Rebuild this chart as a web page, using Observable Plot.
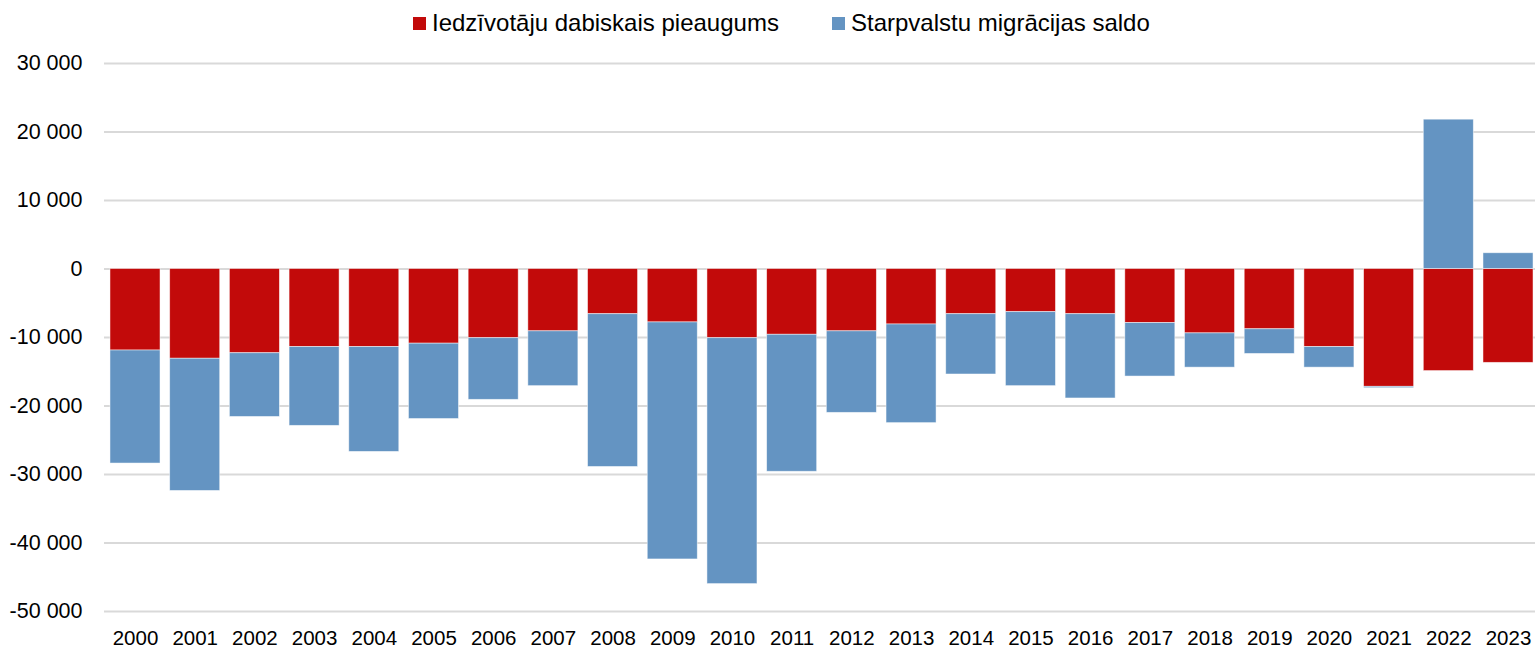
<!DOCTYPE html>
<html>
<head>
<meta charset="utf-8">
<script src="https://cdn.jsdelivr.net/npm/d3@7"></script>
<script src="https://cdn.jsdelivr.net/npm/@observablehq/plot@0.6"></script>
<style>
  body { margin: 0; background: #fff; font-family: Arial, "Liberation Sans", sans-serif; }
  #legend { position: relative; height: 45px; font-size: 24px; color: #000; }
  .item { position: absolute; top: 0; height: 46px; display: flex; align-items: center; }
  .sw { width: 13px; height: 13px; margin-right: 6px; }
</style>
</head>
<body>
<div id="legend"></div>
<div id="chart"></div>
<script>
const years = ["2000","2001","2002","2003","2004","2005","2006","2007","2008","2009","2010","2011","2012","2013","2014","2015","2016","2017","2018","2019","2020","2021","2022","2023"];
const naturalGrowth = [-11900,-13100,-12300,-11400,-11400,-10900,-10100,-9100,-6600,-7800,-10100,-9600,-9100,-8100,-6600,-6300,-6600,-7900,-9400,-8800,-11400,-17200,-14900,-13700];
const migration = [-16500,-19300,-9300,-11500,-15300,-11000,-9000,-8000,-22300,-34600,-35900,-20000,-11900,-14400,-8800,-10800,-12300,-7800,-5000,-3600,-3000,-200,21800,2300];
const seriesNames = ["Iedzīvotāju dabiskais pieaugums", "Starpvalstu migrācijas saldo"];
const seriesColors = ["#C20A0A", "#6494C2"];
const yTicks = [30000, 20000, 10000, 0, -10000, -20000, -30000, -40000, -50000];

const rows = [];
years.forEach((y, i) => {
  rows.push({year: y, series: seriesNames[0], value: naturalGrowth[i]});
  rows.push({year: y, series: seriesNames[1], value: migration[i]});
});

const fmt = d3.formatLocale({decimal: ",", thousands: " ", grouping: [3], currency: ["", ""], minus: "-"}).format(",d");

// legend
const legend = document.getElementById("legend");
const legendLeft = [413, 832];
seriesNames.forEach((name, i) => {
  const it = document.createElement("div");
  it.className = "item";
  it.style.left = legendLeft[i] + "px";
  const sw = document.createElement("div");
  sw.className = "sw";
  sw.style.background = seriesColors[i];
  const tx = document.createElement("span");
  tx.textContent = name;
  it.appendChild(sw); it.appendChild(tx);
  legend.appendChild(it);
});

const chart = Plot.plot({
  width: 1535,
  height: 607,
  marginTop: 18,
  marginBottom: 41,
  marginLeft: 104,
  marginRight: 0,
  style: {fontFamily: 'Arial, "Liberation Sans", sans-serif', fontSize: "21px", color: "#000", background: "#fff"},
  x: {domain: years, range: [107, 1536], paddingInner: 0.162, paddingOuter: 0.05, round: false, label: null},
  y: {domain: [-50000, 30000], ticks: yTicks, tickFormat: fmt, label: null},
  color: {domain: seriesNames, range: seriesColors},
  marks: [
    Plot.ruleY(yTicks, {stroke: "#d9d9d9", strokeWidth: 2}),
    Plot.barY(rows, {x: "year", y: "value", fill: "series", stroke: "#ffffff", strokeWidth: 0.8, strokeOpacity: 0.6, order: seriesNames}),
    Plot.axisX({tickSize: 0, tickPadding: 19, fontSize: 20.5}),
    Plot.axisY({ticks: yTicks, tickFormat: fmt, tickSize: 0, tickPadding: 22, fontSize: 21.5})
  ]
});
document.getElementById("chart").appendChild(chart);
</script>
</body>
</html>
